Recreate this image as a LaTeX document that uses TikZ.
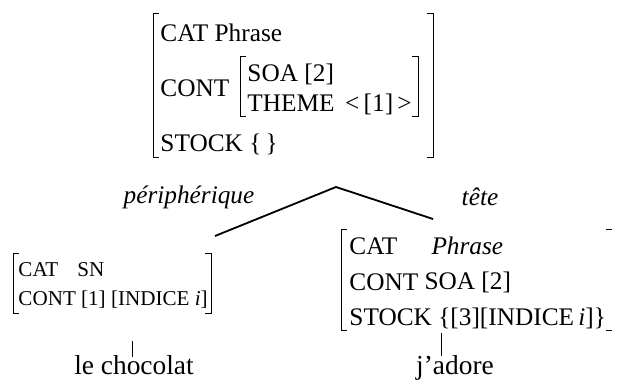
\documentclass[tikz,border=0pt]{standalone}
\usepackage{fontspec}
\setmainfont{Liberation Serif}
\usetikzlibrary{positioning}

\newcommand{\bigfs}{\fontsize{18}{22}\selectfont}
\newcommand{\wordfs}{\fontsize{19.5}{23}\selectfont}
\newcommand{\smallfs}{\fontsize{15}{18}\selectfont}

\begin{document}
\begin{tikzpicture}[x=0.25mm, y=-0.25mm, line width=0.7pt,
    feat/.style={anchor=west, inner sep=0pt, font=\bigfs},
    featsmall/.style={anchor=west, inner sep=0pt, font=\smallfs},
    word/.style={inner sep=0pt, font=\wordfs, text height=12.5pt, text depth=4pt},
    branch/.style={line width=1.3pt}]
    \useasboundingbox (0,0) rectangle (617,381);
    % Structure mère
    \draw (159,13) -- (153,13) -- (153,157) -- (159,157);
    \draw (427,13) -- (433,13) -- (433,157) -- (427,157);
    \node[feat] (catM) at (160,33) {CAT Phrase};
    \node[feat] (contM) at (160,88) {CONT};
    \draw (246,56) -- (240,56) -- (240,116) -- (246,116);
    \draw (412,56) -- (418,56) -- (418,116) -- (412,116);
    \node[feat] (soaM) at (247,74) {SOA [2]};
    \node[feat] (themeM) at (247,104) {THEME~\,<\,[1]\,>};
    \node[feat] (stockM) at (160,144) {STOCK \{\,\}};
    % Branches
    \coordinate (apex) at (336,187);
    \coordinate (endL) at (215,236);
    \coordinate (endR) at (433,219);
    \draw[branch] (endL) -- (apex) -- (endR);
    \node[inner sep=0pt, font=\bigfs\itshape] (periph) at (189,197) {périphérique};
    \node[inner sep=0pt, font=\bigfs\itshape] (tete) at (480,197) {tête};
    % Fille gauche
    \draw (19,253) -- (13,253) -- (13,313) -- (19,313);
    \draw (205,253) -- (211,253) -- (211,313) -- (205,313);
    \node[featsmall] (catL) at (18,270) {CAT};
    \node[featsmall] (snL) at (77,270) {SN};
    \node[featsmall] (contL) at (18,300) {CONT [1] [INDICE \textit{i}]};
    \node[word] (chocolat) at (134,369) {le chocolat};
    \coordinate (tickL) at (132,341);
    \draw (tickL) -- (tickL |- chocolat.north);
    % Fille droite (tête)
    \draw (347,229) -- (341,229) -- (341,330) -- (347,330);
    \draw (606,229) -- (612,229);
    \draw (606,330) -- (612,330);
    \node[feat] (catR) at (349,246) {CAT};
    \node[feat] (phraseR) at (431,246) {\textit{Phrase}};
    \node[feat] (contR) at (349,282) {CONT};
    \node[feat] (soaR) at (424,282) {SOA [2]};
    \node[feat] (stockR) at (349,318) {STOCK \{[3][INDICE\,\textit{i}]\}};
    \node[word] (adore) at (455,368.5) {j’adore};
    \coordinate (tickR) at (441,333);
    \draw (tickR) -- (tickR |- adore.north);
\end{tikzpicture}
\end{document}
